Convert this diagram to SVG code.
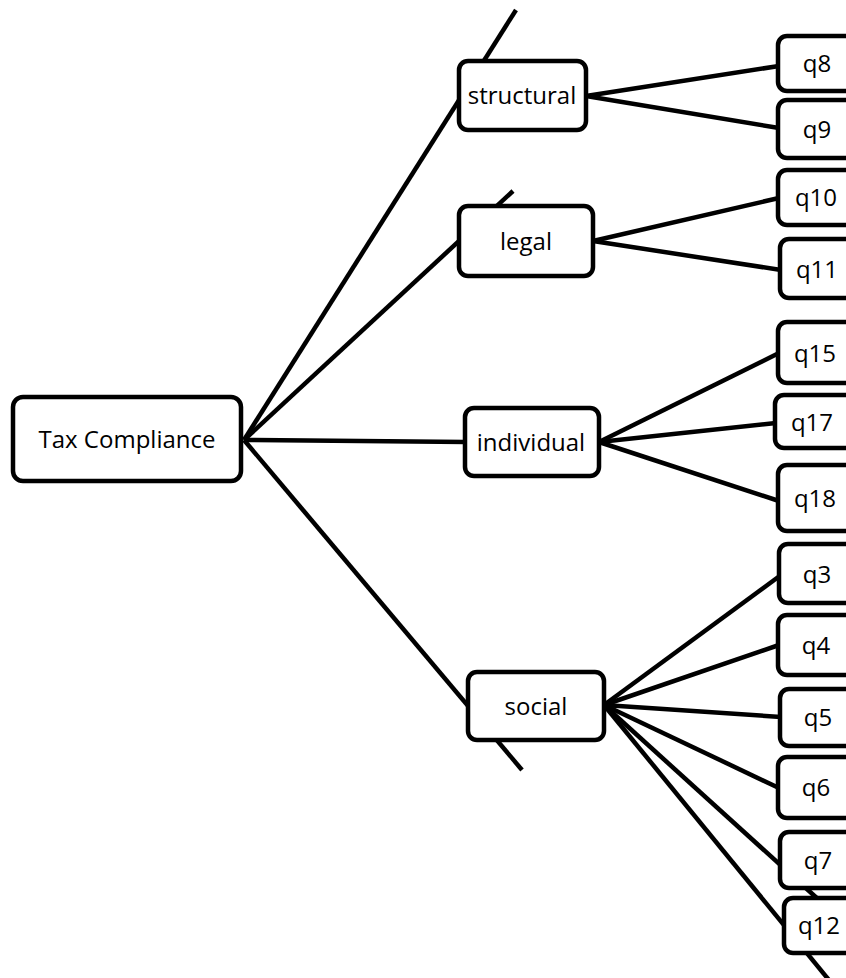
<svg xmlns="http://www.w3.org/2000/svg" width="846" height="978" viewBox="0 0 846 978">
<style>
.box{fill:#fff;stroke:#000;stroke-width:4.5}
.lbl{font-family:"Open Sans","Noto Sans","Liberation Sans",sans-serif;font-size:24px;fill:#000;text-anchor:middle}
#connectors line{stroke:#000;stroke-width:4.5;stroke-linecap:butt}
</style>
<rect width="846" height="978" fill="#fff"/>
<g id="connectors">
<line x1="244" y1="440" x2="516" y2="10"/>
<line x1="244" y1="440" x2="513" y2="191"/>
<line x1="244" y1="440" x2="466" y2="442"/>
<line x1="244" y1="440" x2="522" y2="770"/>
<line x1="586" y1="96" x2="779" y2="66"/>
<line x1="586" y1="96" x2="779" y2="128"/>
<line x1="593" y1="241" x2="779" y2="198"/>
<line x1="593" y1="241" x2="781" y2="270"/>
<line x1="599" y1="442" x2="779" y2="353"/>
<line x1="599" y1="442" x2="776" y2="423"/>
<line x1="599" y1="442" x2="779" y2="501"/>
<line x1="604" y1="705" x2="781" y2="575"/>
<line x1="604" y1="705" x2="779" y2="645"/>
<line x1="604" y1="705" x2="781" y2="717"/>
<line x1="604" y1="705" x2="779" y2="788"/>
<line x1="604" y1="705" x2="830" y2="910"/>
<line x1="604" y1="705" x2="833" y2="985"/>
</g>
<g id="tax"><rect class="box" x="13" y="397" width="228" height="84" rx="10"/><text class="lbl" x="127" y="448">Tax Compliance</text></g>
<g id="structural"><rect class="box" x="459" y="61" width="127" height="69" rx="9"/><text class="lbl" x="522" y="104">structural</text></g>
<g id="legal"><rect class="box" x="459" y="206" width="134" height="70" rx="9"/><text class="lbl" x="526" y="250">legal</text></g>
<g id="individual"><rect class="box" x="465" y="408" width="134" height="68" rx="9"/><text class="lbl" x="531" y="451">individual</text></g>
<g id="social"><rect class="box" x="468" y="672" width="136" height="68" rx="9"/><text class="lbl" x="536" y="715">social</text></g>
<g id="q8"><rect class="box" x="778" y="36" width="80" height="55" rx="9"/><text class="lbl" x="817" y="72">q8</text></g>
<g id="q9"><rect class="box" x="778" y="100" width="80" height="58" rx="9"/><text class="lbl" x="817" y="138">q9</text></g>
<g id="q10"><rect class="box" x="778" y="170" width="80" height="55" rx="9"/><text class="lbl" x="816" y="206">q10</text></g>
<g id="q11"><rect class="box" x="780" y="239" width="80" height="59" rx="9"/><text class="lbl" x="817" y="278">q11</text></g>
<g id="q15"><rect class="box" x="778" y="322" width="80" height="61" rx="9"/><text class="lbl" x="815" y="362">q15</text></g>
<g id="q17"><rect class="box" x="775" y="395" width="80" height="53" rx="9"/><text class="lbl" x="812" y="431">q17</text></g>
<g id="q18"><rect class="box" x="778" y="465" width="80" height="66" rx="9"/><text class="lbl" x="815" y="507">q18</text></g>
<g id="q3"><rect class="box" x="779" y="544" width="80" height="59" rx="9"/><text class="lbl" x="817" y="583">q3</text></g>
<g id="q4"><rect class="box" x="778" y="615" width="80" height="60" rx="9"/><text class="lbl" x="816" y="654">q4</text></g>
<g id="q5"><rect class="box" x="780" y="689" width="80" height="57" rx="9"/><text class="lbl" x="818" y="726">q5</text></g>
<g id="q6"><rect class="box" x="778" y="757" width="80" height="61" rx="9"/><text class="lbl" x="816" y="796">q6</text></g>
<g id="q7"><rect class="box" x="780" y="832" width="80" height="56" rx="9"/><text class="lbl" x="818" y="869">q7</text></g>
<g id="q12"><rect class="box" x="784" y="898" width="80" height="55" rx="9"/><text class="lbl" x="819" y="934">q12</text></g>
</svg>
